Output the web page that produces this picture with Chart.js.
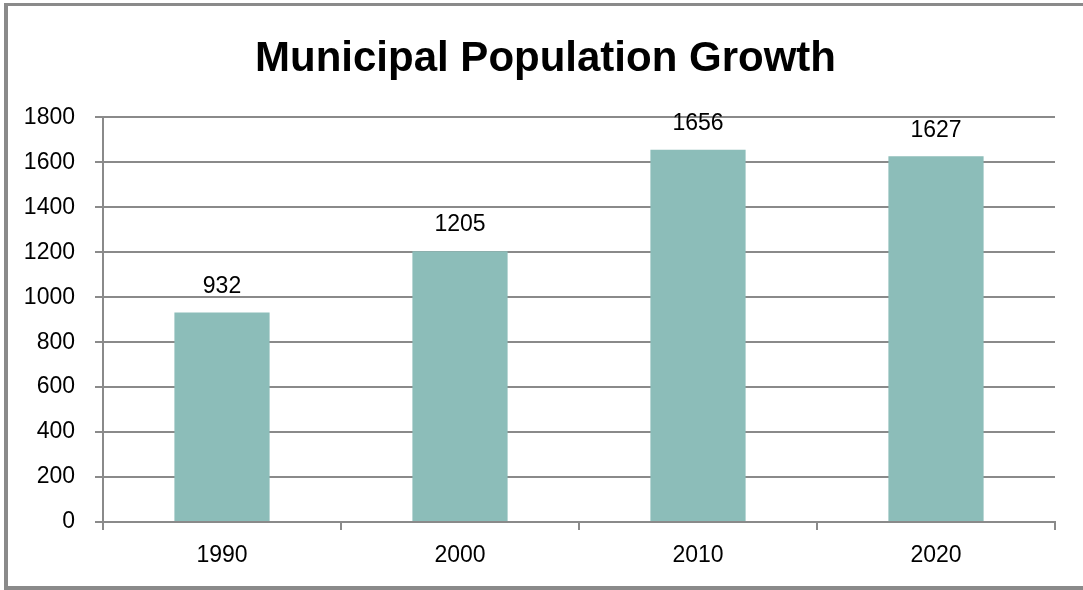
<html lang="en">
<head>
<meta charset="utf-8"/>
<style>
  body { margin: 0; background: #fff; }
  #wrap { position: relative; width: 1083px; height: 590px; }
  #frame {
    position: absolute; left: 4px; top: 3px; width: 1075px; height: 580px;
    border-left: 4px solid #8a8a8a; border-top: 3px solid #8a8a8a;
    border-bottom: 4px solid #8a8a8a; border-right: 2px solid #bdbdbd;
    pointer-events: none;
  }
</style>
</head>
<body>
<div id="wrap">
  <canvas id="myChart" width="1083" height="590"></canvas>
  <div id="frame"></div>
</div>

<script src="https://cdn.jsdelivr.net/npm/chart.js"></script>
<script>
  // data
  var years = ["1990", "2000", "2010", "2020"];
  var population = [932, 1205, 1656, 1627];
  var yTicks = [0, 200, 400, 600, 800, 1000, 1200, 1400, 1600, 1800];

  var fontFam = "'Liberation Sans', Arial, sans-serif";
  var gridGray = "rgb(138,138,138)";

  // value labels above each bar
  var valueLabels = {
    id: "valueLabels",
    afterLayout: function (chart) {
      // title sits a little right of the canvas centre in the original
      if (chart.titleBlock) chart.titleBlock.left = 36;
    },
    afterDatasetsDraw: function (chart) {
      var c = chart.ctx;
      var meta = chart.getDatasetMeta(0);
      c.save();
      c.font = "23px " + fontFam;
      c.fillStyle = "#000";
      c.textAlign = "center";
      c.textBaseline = "middle";
      meta.data.forEach(function (bar, i) {
        c.fillText(String(population[i]), bar.x, bar.y - 26);
      });
      c.restore();
    }
  };

  var ctx = document.getElementById("myChart");
  var myChart = new Chart(ctx, {
    type: "bar",
    data: {
      labels: years,
      datasets: [{
        label: "Population",
        data: population,
        backgroundColor: "rgb(140,189,185)",
        borderWidth: 0,
        categoryPercentage: 1.0,
        barPercentage: 0.4
      }]
    },
    options: {
      responsive: false,
      animation: false,
      layout: { padding: { left: 8, right: 28, top: 0, bottom: 0 } },
      plugins: {
        legend: { display: false },
        tooltip: { enabled: false },
        title: {
          display: true,
          text: "Municipal Population Growth",
          color: "#000",
          font: { family: fontFam, size: 42, weight: "bold", lineHeight: 1.2 },
          padding: { top: 34, bottom: 33 }
        }
      },
      scales: {
        x: {
          grid: {
            display: true,
            drawOnChartArea: false,
            drawTicks: true,
            tickLength: 8,
            color: gridGray,
            lineWidth: 2
          },
          border: { display: true, color: gridGray, width: 2 },
          ticks: {
            color: "#000",
            padding: 12,
            font: { family: fontFam, size: 23 }
          },
          afterFit: function (scale) { scale.height = 68; }
        },
        y: {
          min: 0,
          max: 1800,
          afterBuildTicks: function (scale) {
            scale.ticks = yTicks.map(function (v) { return { value: v }; });
          },
          grid: {
            color: gridGray,
            lineWidth: 2,
            tickLength: 8
          },
          border: { display: true, color: gridGray, width: 2 },
          ticks: {
            color: "#000",
            padding: 20,
            font: { family: fontFam, size: 23 },
            callback: function (v) { return String(v); }
          },
          afterFit: function (scale) { scale.width = 95; }
        }
      }
    },
    plugins: [valueLabels]
  });
</script>
</body>
</html>
